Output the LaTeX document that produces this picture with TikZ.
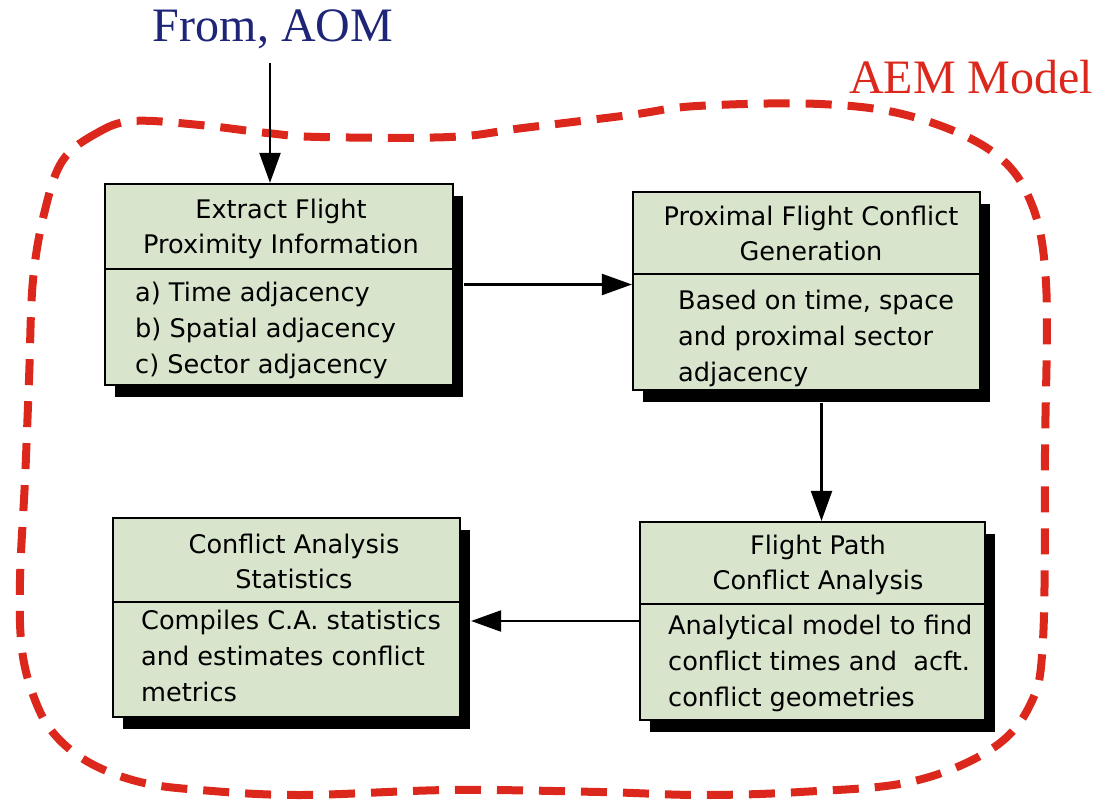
\documentclass[tikz,border=0pt]{standalone}
\usepackage{fontspec}
\setsansfont{DejaVu Sans}
\newfontfamily\capfont{Liberation Serif}
\usepackage{tikz}
\usetikzlibrary{arrows.meta, shadows}
\definecolor{boxgreen}{RGB}{216,228,204}
\definecolor{aemred}{RGB}{220,40,28}
\definecolor{aomblue}{RGB}{30,36,120}
\tikzset{>={Triangle[length=30pt,width=21pt]}}
\tikzset{
  stage/.style={draw=black, line width=2.2pt, fill=boxgreen, inner sep=0pt,
    drop shadow={shadow xshift=10pt, shadow yshift=-12pt, fill=black, opacity=1}},
  head/.style={font=\sffamily\fontsize{25.6}{35}\selectfont, align=center, inner sep=0pt},
  body/.style={font=\sffamily\fontsize{25.6}{36}\selectfont, align=left, anchor=west, inner sep=0pt},
  flow/.style={->, line width=2.2pt},
  bigcap/.style={font=\capfont\fontsize{48}{48}\selectfont, anchor=base, inner sep=0pt},
}

\begin{document}
\begin{tikzpicture}[x=1pt, y=-1pt]
  \useasboundingbox (0,0) rectangle (1098,800);

  % AEM model outline
  \draw[aemred, line width=8pt, dash pattern=on 26pt off 16pt]
    plot[smooth cycle, tension=0.6] coordinates {
      (63,160) (97,133) (133,121) (200,125) (267,133) (320,137) (450,137)
      (523,128) (630,115) (697,106) (820,104) (910,116) (990,150) (1030,200)
      (1046,283) (1045,450) (1043,640) (1030,705) (990,750) (910,782)
      (800,792) (700,795) (600,792) (450,790) (300,795) (200,790) (140,782)
      (90,763) (55,735) (35,700) (22,650) (20,580) (25,480) (29,380)
      (33,280) (45,210)};

  \node[bigcap, text=aomblue] (aom) at (273,42) {From, AOM};
  \node[bigcap, text=aemred] (aem) at (971,93) {AEM Model};

  % the four stages
  \node[stage, minimum width=348pt, minimum height=201pt] (extract) at (279,284.5) {};
  \node[stage, minimum width=347pt, minimum height=198pt] (proximal) at (806.5,291) {};
  \node[stage, minimum width=345pt, minimum height=198pt] (flightpath) at (812.5,621) {};
  \node[stage, minimum width=347pt, minimum height=199pt] (statistics) at (286.5,617.5) {};

  \draw[line width=2.2pt] (extract.west |- 0,269) -- (extract.east |- 0,269);
  \draw[line width=2.2pt] (proximal.west |- 0,274) -- (proximal.east |- 0,274);
  \draw[line width=2.2pt] (flightpath.west |- 0,604) -- (flightpath.east |- 0,604);
  \draw[line width=2.2pt] (statistics.west |- 0,602) -- (statistics.east |- 0,602);

  \node[head] (extract-t) at (281,228.5) {Extract Flight\\Proximity Information};
  \node[body] (extract-b) at (135,330) {a) Time adjacency\\b) Spatial adjacency\\c) Sector adjacency};

  \node[head] (proximal-t) at (811,233.5) {Proximal Flight Conflict\\Generation};
  \node[body] (proximal-b) at (678,338) {Based on time, space\\and proximal sector\\adjacency};

  \node[head] (flightpath-t) at (818,564.5) {Flight Path\\Conflict Analysis};
  \node[body] (flightpath-b) at (668,663) {Analytical model to find\\conflict times and~ acft.\\conflict geometries};

  \node[head] (statistics-t) at (294,561) {Conflict Analysis\\Statistics};
  \node[body] (statistics-b) at (141,656) {Compiles C.A. statistics\\and estimates conflict\\metrics};

  % connectors
  \coordinate (aomin) at (270,63);
  \draw[flow] (aomin) -- (aomin |- extract.north);
  \draw[flow] ([xshift=10pt]extract.east) -- (extract.east -| proximal.west);
  \draw[flow] ([xshift=15pt,yshift=-12pt]proximal.south) -- ([xshift=15pt]proximal.south |- flightpath.north);
  \draw[flow] (flightpath.west) -- ([xshift=10pt]flightpath.west -| statistics.east);
\end{tikzpicture}
\end{document}
